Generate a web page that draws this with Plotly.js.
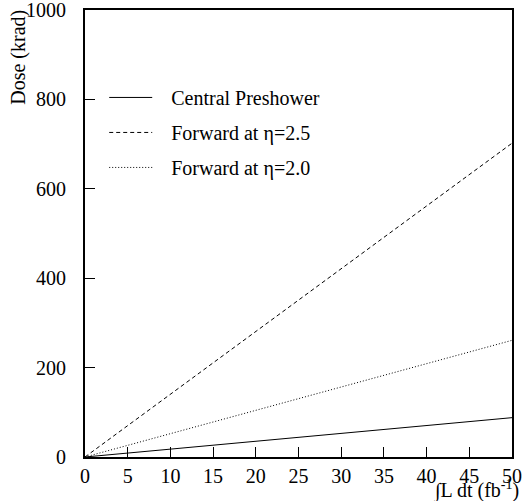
<!DOCTYPE html>
<html>
<head>
<meta charset="utf-8">
<script src="https://cdn.plot.ly/plotly-3.0.1.min.js"></script>
<style>
  html, body { margin: 0; padding: 0; background: #fff; }
  #chart { width: 522px; height: 501px; }
</style>
</head>
<body>
<div id="chart"></div>
<script>
// Integrated luminosity (fb^-1) and accumulated dose (krad)
const lumi = [0, 50];
const doseCentral = [0, 88];
const doseFwd25 = [0, 702];
const doseFwd20 = [0, 261];

// en space + thin space widen the gap between legend sample and label
const gap = "\u2002\u2009";
const seriesNames = ["Central Preshower", "Forward at η=2.5", "Forward at η=2.0"];
const seriesDash = ["solid", "4px,3px", "1px,2px"];

const xTicks = [0, 5, 10, 15, 20, 25, 30, 35, 40, 45, 50];
const yTicks = [0, 200, 400, 600, 800, 1000];

const font = { family: "Liberation Serif, Times New Roman, serif", size: 20, color: "#000" };

const traces = [doseCentral, doseFwd25, doseFwd20].map((y, i) => ({
  x: lumi,
  y: y,
  type: "scatter",
  mode: "lines",
  name: gap + seriesNames[i],
  legendgroup: "g" + i,
  line: { color: "#000", width: 1, dash: seriesDash[i] },
  hoverinfo: "skip"
}));

const axisCommon = {
  showgrid: false,
  zeroline: false,
  showline: true,
  linecolor: "#000",
  linewidth: 2,
  mirror: true,
  ticks: "inside",
  ticklen: 10,
  tickwidth: 1,
  tickcolor: "#000",
  tickfont: font,
  ticklabeloverflow: "allow"
};

const layout = {
  width: 522,
  height: 501,
  margin: { l: 85, r: 10, t: 10, b: 44 },
  paper_bgcolor: "#fff",
  plot_bgcolor: "#fff",
  font: font,
  showlegend: true,
  legend: {
    x: 0.045, y: 0.848, xanchor: "left", yanchor: "top",
    bgcolor: "rgba(0,0,0,0)",
    font: font,
    itemwidth: 43,
    tracegroupgap: 6
  },
  xaxis: Object.assign({}, axisCommon, {
    range: [0, 50],
    tickvals: xTicks,
    ticktext: xTicks.map(String)
  }),
  yaxis: Object.assign({}, axisCommon, {
    range: [0, 1000],
    tickvals: yTicks,
    ticktext: yTicks.map(String),
    ticklabelstandoff: 13
  }),
  annotations: [
    {
      text: "Dose (krad)",
      xref: "paper", yref: "paper",
      x: -0.155, y: 0.895,
      xanchor: "center", yanchor: "middle",
      textangle: -90,
      showarrow: false,
      font: font
    },
    {
      text: "∫L dt (fb<sup>-1</sup>)",
      xref: "paper", yref: "paper",
      x: 0.915, y: -0.074,
      xanchor: "center", yanchor: "middle",
      showarrow: false,
      font: font
    }
  ]
};

Plotly.newPlot("chart", traces, layout, { staticPlot: true, displayModeBar: false });
</script>
</body>
</html>
